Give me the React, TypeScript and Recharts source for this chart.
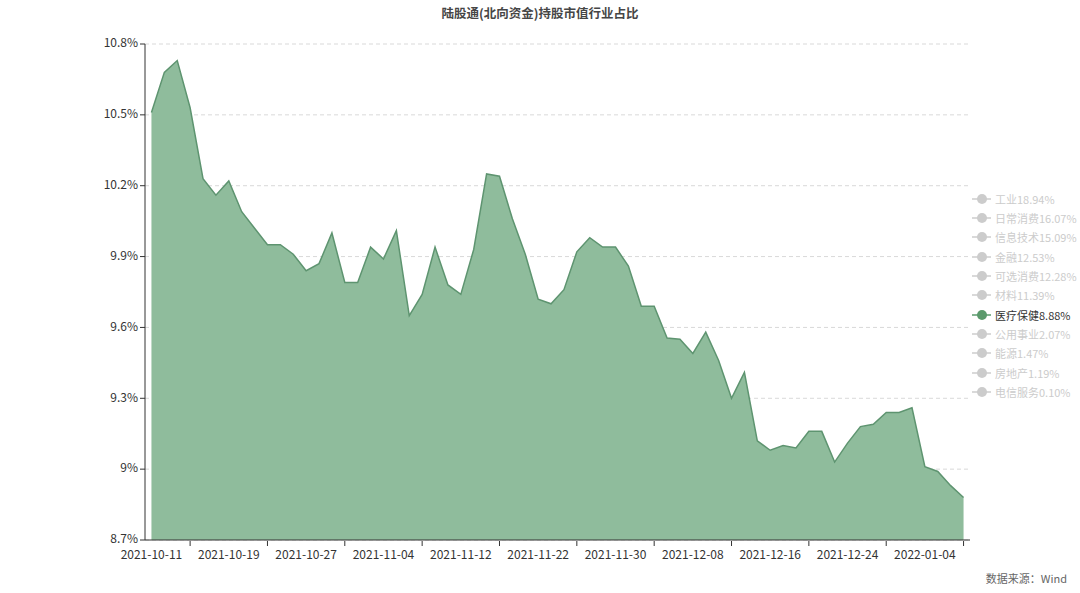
import { AreaChart, Area, XAxis, YAxis, CartesianGrid } from 'recharts'

const dates = [
  '2021-10-11', '2021-10-12', '2021-10-13', '2021-10-14', '2021-10-15', '2021-10-18', '2021-10-19',
  '2021-10-20', '2021-10-21', '2021-10-22', '2021-10-25', '2021-10-26', '2021-10-27',
  '2021-10-28', '2021-10-29', '2021-11-01', '2021-11-02', '2021-11-03', '2021-11-04',
  '2021-11-05', '2021-11-08', '2021-11-09', '2021-11-10', '2021-11-11', '2021-11-12',
  '2021-11-15', '2021-11-16', '2021-11-17', '2021-11-18', '2021-11-19', '2021-11-22',
  '2021-11-23', '2021-11-24', '2021-11-25', '2021-11-26', '2021-11-29', '2021-11-30',
  '2021-12-01', '2021-12-02', '2021-12-03', '2021-12-06', '2021-12-07', '2021-12-08',
  '2021-12-09', '2021-12-10', '2021-12-13', '2021-12-14', '2021-12-15', '2021-12-16',
  '2021-12-17', '2021-12-20', '2021-12-21', '2021-12-22', '2021-12-23', '2021-12-24',
  '2021-12-27', '2021-12-28', '2021-12-29', '2021-12-30', '2021-12-31', '2022-01-04',
  '2022-01-05', '2022-01-06', '2022-01-07',
]

// 医疗保健 share of northbound holdings, %
const healthcare = [
  10.51, 10.68, 10.73, 10.53, 10.23, 10.16, 10.22,
  10.09, 10.02, 9.95, 9.95, 9.91, 9.84,
  9.87, 10.0, 9.79, 9.79, 9.94, 9.89,
  10.01, 9.65, 9.74, 9.94, 9.78, 9.74,
  9.93, 10.25, 10.24, 10.06, 9.91, 9.72,
  9.7, 9.76, 9.92, 9.98, 9.94, 9.94,
  9.86, 9.69, 9.69, 9.555, 9.55, 9.49,
  9.58, 9.46, 9.3, 9.41, 9.12, 9.08,
  9.1, 9.09, 9.16, 9.16, 9.03, 9.11,
  9.18, 9.19, 9.24, 9.24, 9.26, 9.01,
  8.99, 8.93, 8.88,
]

const yTicks = [8.7, 9, 9.3, 9.6, 9.9, 10.2, 10.5, 10.8]

const legendNames = ['工业', '日常消费', '信息技术', '金融', '可选消费', '材料', '医疗保健', '公用事业', '能源', '房地产', '电信服务']
const legendShares = ['18.94%', '16.07%', '15.09%', '12.53%', '12.28%', '11.39%', '8.88%', '2.07%', '1.47%', '1.19%', '0.10%']
const activeName = '医疗保健'

const data = dates.map((d, i) => ({ date: d, value: healthcare[i] }))
// echarts-style tick marks sit between the labelled dates
const markDates = dates.filter((_, i) => i % 6 === 3)

const FONT = '"Noto Sans CJK SC", "Noto Sans", sans-serif'
const AXIS = '#333'
const GREEN_LINE = '#5e9470'
const GREEN_FILL = '#8fbc9c'

export default function App() {
  return (
    <div style={{ position: 'absolute', left: 0, top: 0, width: 1080, height: 593, background: '#fff', fontFamily: FONT }}>
      <div style={{ position: 'absolute', top: 4, left: 0, width: 1080, textAlign: 'center', fontSize: 12.5, fontWeight: 'bold', color: '#464646', lineHeight: '18px' }}>
        陆股通(北向资金)持股市值行业占比
      </div>

      <AreaChart width={1080} height={593} data={data} margin={{ top: 44, right: 110, bottom: 51, left: 85 }}>
        <CartesianGrid vertical={false} stroke="#d9d9d9" strokeDasharray="4 3" />
        <XAxis
          dataKey="date"
          interval={5}
          height={1}
          padding={{ left: 6.45, right: 6.45 }}
          tick={{ fill: AXIS, fontSize: 12 }}
          tickLine={false}
          tickSize={5}
          tickMargin={5}
          axisLine={{ stroke: AXIS }}
        />
        <XAxis
          xAxisId="marks"
          dataKey="date"
          ticks={markDates}
          interval={0}
          height={1}
          padding={{ left: 6.45, right: 6.45 }}
          tickFormatter={() => ''}
          tickLine={{ stroke: AXIS }}
          tickSize={5}
          axisLine={false}
        />
        <YAxis
          width={60}
          domain={[8.7, 10.8]}
          ticks={yTicks}
          interval={0}
          allowDataOverflow
          tickFormatter={(v: number) => `${v}%`}
          tick={{ fill: AXIS, fontSize: 12, dy: -1 }}
          tickSize={5}
          tickMargin={2}
          tickLine={{ stroke: AXIS }}
          axisLine={{ stroke: AXIS }}
        />
        <Area
          type="linear"
          dataKey="value"
          stroke={GREEN_LINE}
          strokeWidth={1.5}
          fill={GREEN_FILL}
          fillOpacity={1}
          dot={false}
          activeDot={false}
          isAnimationActive={false}
        />
      </AreaChart>

      <div style={{ position: 'absolute', left: 971, top: 189, width: 109 }}>
        {legendNames.map((name, i) => {
          const active = name === activeName
          const c = active ? '#5b9a6c' : '#cccccc'
          return (
            <div key={name} style={{ display: 'flex', alignItems: 'center', height: 19.35, fontSize: 11, color: active ? '#333' : '#cccccc', whiteSpace: 'nowrap' }}>
              <svg width={21} height={12} style={{ marginRight: 3, flexShrink: 0 }}>
                <line x1={1} y1={6} x2={20} y2={6} stroke={c} strokeWidth={1.5} />
                <circle cx={11} cy={6} r={5} fill={c} />
              </svg>
              {name}{legendShares[i]}
            </div>
          )
        })}
      </div>

      <div style={{ position: 'absolute', right: 13, top: 570, fontSize: 11, color: '#666' }}>
        数据来源：Wind
      </div>
    </div>
  )
}
